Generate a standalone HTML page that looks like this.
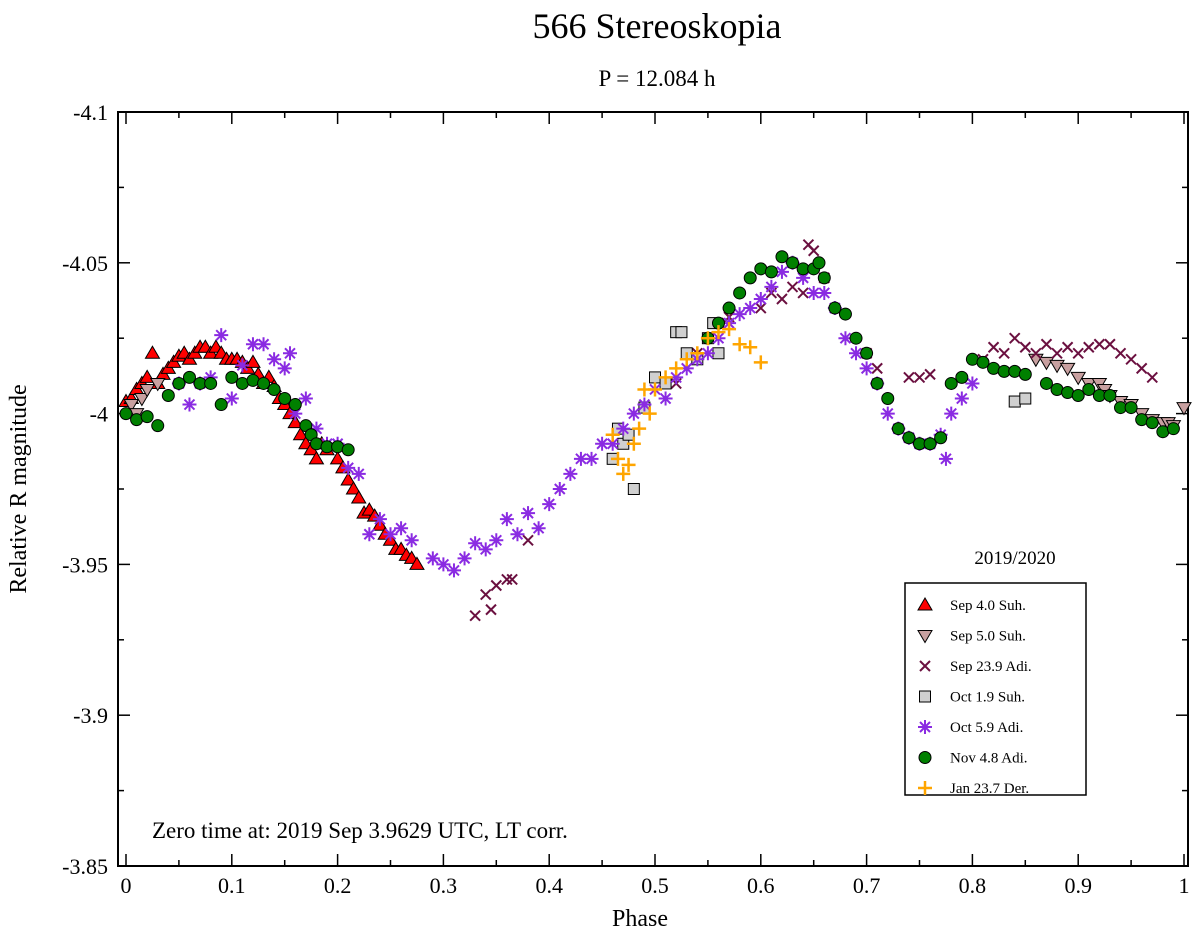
<!DOCTYPE html>
<html><head><meta charset="utf-8"><style>
html,body{margin:0;padding:0;background:#fff;}
svg{display:block;font-family:"Liberation Serif",serif;}
</style></head><body>
<svg id="chart" width="1200" height="935" viewBox="0 0 1200 935">
<text x="657" y="38" font-size="36" text-anchor="middle">566 Stereoskopia</text>
<text x="657" y="86" font-size="23" text-anchor="middle">P = 12.084 h</text>
<rect x="118" y="112" width="1070" height="754" fill="none" stroke="#000" stroke-width="2"/>
<g id="axes"></g>
<g id="marks"></g>
<text x="640" y="926" font-size="24" text-anchor="middle">Phase</text>
<text transform="translate(26,489) rotate(-90)" font-size="24" text-anchor="middle">Relative R magnitude</text>
<text x="152" y="838" font-size="23">Zero time at: 2019 Sep 3.9629 UTC, LT corr.</text>
<text x="1015" y="564" font-size="19" text-anchor="middle">2019/2020</text>
<rect x="905" y="583" width="181" height="212" fill="#fff" stroke="#000" stroke-width="1.5"/>
<g id="legend"></g>
</svg>
<script>
const xTicks=[0,0.1,0.2,0.3,0.4,0.5,0.6,0.7,0.8,0.9,1];
const xTickLabels=["0","0.1","0.2","0.3","0.4","0.5","0.6","0.7","0.8","0.9","1"];
const yTicks=[-4.1,-4.05,-4,-3.95,-3.9,-3.85];
const yTickLabels=["-4.1","-4.05","-4","-3.95","-3.9","-3.85"];
const seriesNames=["Sep 4.0 Suh.","Sep 5.0 Suh.","Sep 23.9 Adi.","Oct 1.9 Suh.","Oct 5.9 Adi.","Nov 4.8 Adi.","Jan 23.7 Der."];
const sep4Phase=[0,0.005,0.01,0.015,0.02,0.025,0.03,0.035,0.04,0.045,0.05,0.055,0.06,0.065,0.07,0.075,0.08,0.085,0.09,0.095,0.1,0.105,0.11,0.115,0.12,0.125,0.13,0.135,0.14,0.145,0.15,0.155,0.16,0.165,0.17,0.175,0.18,0.185,0.19,0.2,0.205,0.21,0.215,0.22,0.225,0.23,0.235,0.24,0.245,0.25,0.255,0.26,0.265,0.27,0.275];
const sep4Mag=[-4.004,-4.005,-4.008,-4.01,-4.012,-4.02,-4.01,-4.013,-4.015,-4.017,-4.019,-4.02,-4.018,-4.02,-4.022,-4.022,-4.02,-4.022,-4.02,-4.018,-4.018,-4.018,-4.017,-4.015,-4.017,-4.013,-4.01,-4.012,-4.009,-4.005,-4.003,-4.0,-3.997,-3.993,-3.99,-3.988,-3.985,-3.99,-3.988,-3.985,-3.982,-3.978,-3.975,-3.972,-3.967,-3.968,-3.966,-3.963,-3.96,-3.958,-3.955,-3.955,-3.953,-3.952,-3.95];
const sep5Phase=[0.005,0.01,0.015,0.02,0.03,0.86,0.87,0.88,0.89,0.9,0.91,0.92,0.925,0.93,0.94,0.95,0.96,0.97,0.98,0.985,0.99,1.0];
const sep5Mag=[-4.003,-4.0,-4.005,-4.008,-4.01,-4.018,-4.017,-4.016,-4.015,-4.012,-4.01,-4.01,-4.008,-4.006,-4.004,-4.003,-4.0,-3.998,-3.997,-3.997,-3.996,-4.002];
const sep23Phase=[0.33,0.34,0.345,0.35,0.36,0.365,0.38,0.52,0.54,0.55,0.56,0.57,0.6,0.61,0.62,0.63,0.64,0.645,0.65,0.66,0.7,0.71,0.74,0.75,0.76,0.81,0.82,0.83,0.84,0.85,0.86,0.87,0.88,0.89,0.9,0.91,0.92,0.93,0.94,0.95,0.96,0.97];
const sep23Mag=[-3.933,-3.94,-3.935,-3.943,-3.945,-3.945,-3.958,-4.01,-4.02,-4.025,-4.03,-4.032,-4.035,-4.04,-4.038,-4.042,-4.04,-4.056,-4.054,-4.045,-4.02,-4.015,-4.012,-4.012,-4.013,-4.018,-4.022,-4.02,-4.025,-4.022,-4.02,-4.023,-4.02,-4.022,-4.02,-4.022,-4.023,-4.023,-4.02,-4.018,-4.015,-4.012];
const oct1Phase=[0.46,0.465,0.47,0.475,0.48,0.49,0.5,0.51,0.52,0.525,0.53,0.54,0.55,0.555,0.56,0.84,0.85];
const oct1Mag=[-3.985,-3.995,-3.99,-3.993,-3.975,-4.002,-4.012,-4.01,-4.027,-4.027,-4.02,-4.018,-4.025,-4.03,-4.02,-4.004,-4.005];
const oct5Phase=[0.05,0.06,0.07,0.08,0.09,0.1,0.11,0.12,0.13,0.14,0.15,0.155,0.16,0.17,0.18,0.19,0.2,0.21,0.22,0.23,0.24,0.25,0.26,0.27,0.29,0.3,0.31,0.32,0.33,0.34,0.35,0.36,0.37,0.38,0.39,0.4,0.41,0.42,0.43,0.44,0.45,0.46,0.47,0.48,0.49,0.5,0.51,0.52,0.53,0.54,0.55,0.56,0.57,0.58,0.59,0.6,0.61,0.62,0.63,0.64,0.65,0.66,0.67,0.68,0.69,0.7,0.71,0.72,0.73,0.74,0.75,0.76,0.77,0.775,0.78,0.79,0.8];
const oct5Mag=[-4.01,-4.003,-4.01,-4.012,-4.026,-4.005,-4.016,-4.023,-4.023,-4.018,-4.015,-4.02,-4.0,-4.005,-3.995,-3.99,-3.99,-3.982,-3.98,-3.96,-3.965,-3.96,-3.962,-3.958,-3.952,-3.95,-3.948,-3.952,-3.957,-3.955,-3.958,-3.965,-3.96,-3.967,-3.962,-3.97,-3.975,-3.98,-3.985,-3.985,-3.99,-3.99,-3.995,-4.0,-4.003,-4.008,-4.005,-4.012,-4.015,-4.018,-4.02,-4.025,-4.03,-4.033,-4.035,-4.038,-4.042,-4.047,-4.05,-4.045,-4.04,-4.04,-4.035,-4.025,-4.02,-4.015,-4.01,-4.0,-3.995,-3.992,-3.99,-3.99,-3.993,-3.985,-4.0,-4.005,-4.01];
const nov4Phase=[0,0.01,0.02,0.03,0.04,0.05,0.06,0.07,0.08,0.09,0.1,0.11,0.12,0.13,0.14,0.15,0.16,0.17,0.175,0.18,0.19,0.2,0.21,0.55,0.56,0.57,0.58,0.59,0.6,0.61,0.62,0.63,0.64,0.65,0.655,0.66,0.67,0.68,0.69,0.7,0.71,0.72,0.73,0.74,0.75,0.76,0.77,0.78,0.79,0.8,0.81,0.82,0.83,0.84,0.85,0.87,0.88,0.89,0.9,0.91,0.92,0.93,0.94,0.95,0.96,0.97,0.98,0.99];
const nov4Mag=[-4.0,-3.998,-3.999,-3.996,-4.006,-4.01,-4.012,-4.01,-4.01,-4.003,-4.012,-4.01,-4.011,-4.01,-4.008,-4.005,-4.003,-3.996,-3.993,-3.99,-3.989,-3.989,-3.988,-4.025,-4.03,-4.035,-4.04,-4.045,-4.048,-4.047,-4.052,-4.05,-4.048,-4.048,-4.05,-4.045,-4.035,-4.033,-4.025,-4.02,-4.01,-4.005,-3.995,-3.992,-3.99,-3.99,-3.992,-4.01,-4.012,-4.018,-4.017,-4.015,-4.014,-4.014,-4.013,-4.01,-4.008,-4.007,-4.006,-4.008,-4.006,-4.006,-4.002,-4.002,-3.998,-3.997,-3.994,-3.995];
const jan23Phase=[0.46,0.465,0.47,0.475,0.48,0.485,0.49,0.495,0.5,0.51,0.52,0.53,0.54,0.55,0.56,0.57,0.58,0.59,0.6];
const jan23Mag=[-3.993,-3.985,-3.98,-3.983,-3.99,-3.995,-4.008,-4.0,-4.008,-4.012,-4.015,-4.018,-4.02,-4.025,-4.027,-4.028,-4.023,-4.022,-4.017];

const NS="http://www.w3.org/2000/svg";
const X0=118,X1=1188,Y0=112,Y1=866;
function xScale(p){return 126+p*1058;}
function yScale(m){return Y0+(m-(-4.1))/0.25*(Y1-Y0);}
function mk(tag,attrs,parent){const e=document.createElementNS(NS,tag);for(const k in attrs)e.setAttribute(k,attrs[k]);parent.appendChild(e);return e;}
const axes=document.getElementById('axes');
for(let i=0;i<xTicks.length;i++){
  const x=xScale(xTicks[i]);
  const t1=mk('line',{x1:x,x2:x,y1:Y1,y2:Y1-12,stroke:'#000','stroke-width':1.5},axes);
  
  
  mk('line',{x1:x,x2:x,y1:Y0,y2:Y0+12,stroke:'#000','stroke-width':1.5},axes);
  if(i<xTicks.length-1){const xm=xScale(xTicks[i]+0.05);mk('line',{x1:xm,x2:xm,y1:Y1,y2:Y1-6,stroke:'#000','stroke-width':1.5},axes);mk('line',{x1:xm,x2:xm,y1:Y0,y2:Y0+6,stroke:'#000','stroke-width':1.5},axes);}
  const tl=mk('text',{x:x,y:893,'font-size':22,'text-anchor':'middle'},axes);
  tl.textContent=xTickLabels[i];
  
  
}
for(let i=0;i<yTicks.length;i++){
  const y=yScale(yTicks[i]);
  const t1=mk('line',{x1:X0,x2:X0+12,y1:y,y2:y,stroke:'#000','stroke-width':1.5},axes);
  
  
  mk('line',{x1:X1,x2:X1-12,y1:y,y2:y,stroke:'#000','stroke-width':1.5},axes);
  if(i<yTicks.length-1){const ym=yScale(yTicks[i]+0.025);mk('line',{x1:X0,x2:X0+6,y1:ym,y2:ym,stroke:'#000','stroke-width':1.5},axes);mk('line',{x1:X1,x2:X1-6,y1:ym,y2:ym,stroke:'#000','stroke-width':1.5},axes);}
  const tl=mk('text',{x:108,y:y+8,'font-size':22,'text-anchor':'end'},axes);
  tl.textContent=yTickLabels[i];
  
  
}
function drawMarker(type,x,y,g){
  if(type==='up') return mk('polygon',{points:`${x},${y-7} ${x-7},${y+5} ${x+7},${y+5}`,fill:'#f00',stroke:'#000','stroke-width':1},g);
  if(type==='down') return mk('polygon',{points:`${x},${y+7} ${x-7},${y-5} ${x+7},${y-5}`,fill:'#c8a0a0',stroke:'#000','stroke-width':1},g);
  if(type==='x') return mk('path',{d:`M${x-5},${y-5}L${x+5},${y+5}M${x-5},${y+5}L${x+5},${y-5}`,stroke:'#6b1040','stroke-width':2,fill:'none'},g);
  if(type==='sq') return mk('rect',{x:x-5.5,y:y-5.5,width:11,height:11,fill:'#d0d0d0',stroke:'#000','stroke-width':1},g);
  if(type==='star') return mk('path',{d:`M${x-7},${y}L${x+7},${y}M${x},${y-7}L${x},${y+7}M${x-5},${y-5}L${x+5},${y+5}M${x-5},${y+5}L${x+5},${y-5}`,stroke:'#8a2be2','stroke-width':2,fill:'none'},g);
  if(type==='circ') return mk('circle',{cx:x,cy:y,r:6,fill:'#008000',stroke:'#000','stroke-width':1},g);
  return mk('path',{d:`M${x-7},${y}L${x+7},${y}M${x},${y-7}L${x},${y+7}`,stroke:'#ffa500','stroke-width':2.5,fill:'none'},g);
}
const series=[[sep4Phase,sep4Mag,'up','sep4'],[sep5Phase,sep5Mag,'down','sep5'],[sep23Phase,sep23Mag,'x','sep23'],[oct1Phase,oct1Mag,'sq','oct1'],[oct5Phase,oct5Mag,'star','oct5'],[nov4Phase,nov4Mag,'circ','nov4'],[jan23Phase,jan23Mag,'plus','jan23']];
const marks=document.getElementById('marks');
series.forEach(s=>{
  const g=mk('g',{},marks);
  
  
  for(let i=0;i<s[0].length;i++){
    const m=drawMarker(s[2],xScale(s[0][i]),yScale(s[1][i]),g);
    
    
  }
});
const leg=document.getElementById('legend');
series.forEach((s,i)=>{
  const y=605+i*30.5;
  const g=mk('g',{},leg);
  
  
  drawMarker(s[2],925,y,g);
  const t=mk('text',{x:950,y:y+5,'font-size':15},g);
  t.textContent=seriesNames[i];
});
</script>
</body></html>
